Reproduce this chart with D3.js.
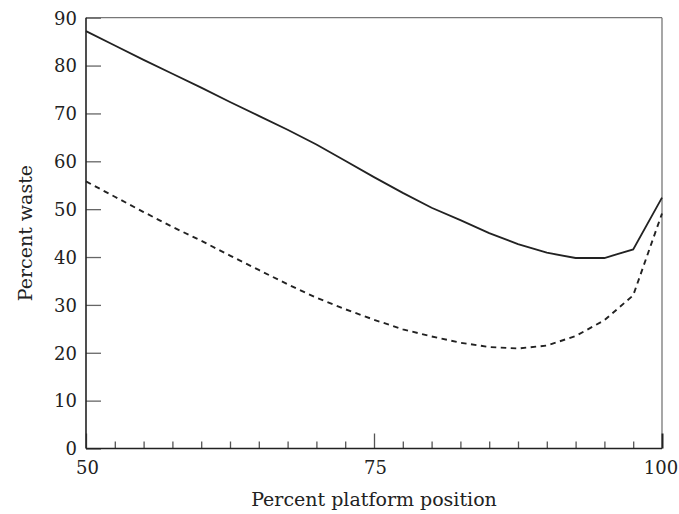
<!DOCTYPE html>
<html>
<head>
<meta charset="utf-8">
<style>
  html, body { margin: 0; padding: 0; background: #fff; }
  svg { display: block; }
  text { font-family: "DejaVu Serif", serif; fill: #222; }
</style>
</head>
<body>
<svg id="chart" width="679" height="514"></svg>
<script src="https://cdn.jsdelivr.net/npm/d3@7"></script>
<script>
// Percent waste vs platform position, two curves
const positions = [50, 52.5, 55, 57.5, 60, 62.5, 65, 67.5, 70, 72.5, 75,
                   77.5, 80, 82.5, 85, 87.5, 90, 92.5, 95, 97.5, 100];
const wasteSolid = [87.2, 84.2, 81.2, 78.3, 75.4, 72.4, 69.5, 66.6, 63.5, 60.1, 56.7,
                    53.4, 50.3, 47.7, 45.0, 42.7, 40.9, 39.8, 39.8, 41.6, 52.4];
const wasteDashed = [55.8, 52.6, 49.4, 46.3, 43.4, 40.3, 37.3, 34.3, 31.5, 29.1, 26.9,
                     24.9, 23.4, 22.1, 21.2, 20.9, 21.5, 23.5, 26.8, 32.0, 49.1];
const yTicks = [0, 10, 20, 30, 40, 50, 60, 70, 80, 90];
const xMajor = [50, 75, 100];

(function () {
  const svg = d3.select("#chart");
  const margin = { top: 17.7, right: 17, bottom: 65.5, left: 86 };
  const width = 679, height = 514;
  const innerW = width - margin.left - margin.right;
  const innerH = height - margin.top - margin.bottom;

  const g = svg.append("g").attr("transform", `translate(${margin.left},${margin.top})`);

  const x = d3.scaleLinear().domain([50, 100]).range([0, innerW]);
  const y = d3.scaleLinear().domain([0, 90]).range([innerH, 0]);

  // frame: top and right are lighter
  g.append("line").attr("x1", 0).attr("x2", innerW).attr("y1", 0).attr("y2", 0)
    .attr("stroke", "#777").attr("stroke-width", 1.3);
  g.append("line").attr("x1", innerW).attr("x2", innerW).attr("y1", 0).attr("y2", innerH)
    .attr("stroke", "#777").attr("stroke-width", 1.3);

  // y axis, ticks pointing inward
  const yAxis = g.append("g").attr("class", "axis y")
    .call(d3.axisRight(y).tickValues(yTicks).tickSize(15).tickFormat(""));
  yAxis.select(".domain").remove();
  yAxis.selectAll(".tick line").attr("stroke", "#666").attr("stroke-width", 1.3);
  g.append("g").selectAll("text").data(yTicks).join("text")
    .attr("x", -9).attr("y", d => y(d)).attr("dy", "0.38em")
    .attr("text-anchor", "end").attr("font-size", 18).text(d => d);

  // x axis, minor ticks every 2.5 inward
  const xAxis = g.append("g").attr("class", "axis x").attr("transform", `translate(0,${innerH})`)
    .call(d3.axisTop(x).tickValues(positions).tickSize(7).tickFormat(""));
  xAxis.select(".domain").remove();
  xAxis.selectAll(".tick line")
    .attr("y2", d => xMajor.includes(d) ? -15 : -7)
    .attr("stroke", d => d === 100 ? "#222" : "#555")
    .attr("stroke-width", d => d === 100 ? 2 : 1.3);
  g.append("g").selectAll("text").data(xMajor).join("text")
    .attr("x", d => x(d) + (d === 100 ? -1 : 1.5)).attr("y", innerH + 25.5)
    .attr("text-anchor", "middle").attr("font-size", 18).text(d => d);

  // left and bottom axis lines
  g.append("line").attr("x1", 0).attr("x2", 0).attr("y1", 0).attr("y2", innerH)
    .attr("stroke", "#222").attr("stroke-width", 1.6);
  g.append("line").attr("x1", 0).attr("x2", innerW).attr("y1", innerH).attr("y2", innerH)
    .attr("stroke", "#222").attr("stroke-width", 1.6);

  const line = d3.line().x(d => x(d[0])).y(d => y(d[1]));

  g.append("path")
    .datum(d3.zip(positions, wasteSolid))
    .attr("fill", "none").attr("stroke", "#222").attr("stroke-width", 1.8)
    .attr("d", line);

  g.append("path")
    .datum(d3.zip(positions, wasteDashed))
    .attr("fill", "none").attr("stroke", "#222").attr("stroke-width", 1.9)
    .attr("stroke-dasharray", "5.5,4.5")
    .attr("d", line);

  // axis titles
  svg.append("text")
    .attr("x", margin.left + innerW / 2).attr("y", 506)
    .attr("text-anchor", "middle").attr("font-size", 19)
    .text("Percent platform position");

  svg.append("text")
    .attr("transform", `translate(31.5,${margin.top + innerH / 2}) rotate(-90)`)
    .attr("text-anchor", "middle").attr("font-size", 19)
    .text("Percent waste");
})();
</script>
</body>
</html>
